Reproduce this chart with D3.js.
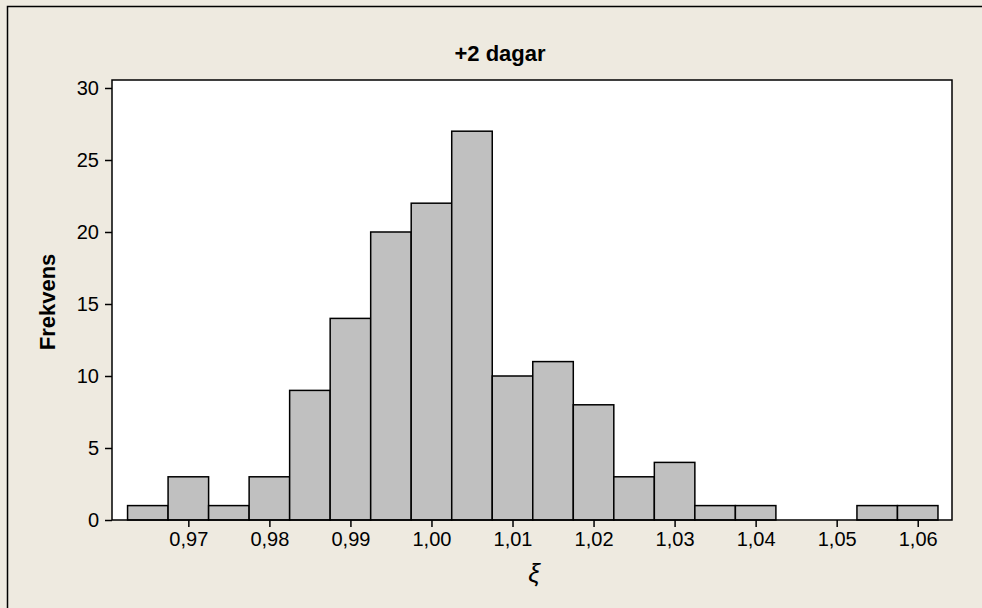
<!DOCTYPE html>
<html>
<head>
<meta charset="utf-8">
<script src="https://cdn.jsdelivr.net/npm/d3@7"></script>
<style>
  html, body { margin: 0; padding: 0; background: #EEEAE0; }
  svg { display: block; }
  text { font-family: Arial, "Liberation Sans", sans-serif; fill: #000; }
</style>
</head>
<body>
<div id="chart"></div>
<script>
// bin edges start at 0.9625, width 0.005
var binStart = 0.9625;
var binWidth = 0.005;
var counts = [1, 3, 1, 3, 9, 14, 20, 22, 27, 10, 11, 8, 3, 4, 1, 1, 0, 0, 1, 1];
var xTicks = [0.97, 0.98, 0.99, 1.00, 1.01, 1.02, 1.03, 1.04, 1.05, 1.06];
var yTicks = [0, 5, 10, 15, 20, 25, 30];
var title = "+2 dagar";
var yLabel = "Frekvens";
var xLabel = "ξ";

var width = 982, height = 608;
var plot = { left: 112, top: 80, right: 952, bottom: 520 };

var svg = d3.select("#chart").append("svg")
  .attr("width", width)
  .attr("height", height);

svg.append("rect")
  .attr("x", 0).attr("y", 0)
  .attr("width", width).attr("height", height)
  .attr("fill", "#EEEAE0");

// outer frame (right / bottom edges lie outside the window)
svg.append("rect")
  .attr("x", 7.5).attr("y", 6.5)
  .attr("width", 1000).attr("height", 700)
  .attr("fill", "none")
  .attr("stroke", "#000")
  .attr("stroke-width", 1.5);

var x = d3.scaleLinear()
  .domain([0.96058, 1.06423])
  .range([plot.left, plot.right]);

var y = d3.scaleLinear()
  .domain([0, 30.555])
  .range([plot.bottom, plot.top]);

svg.append("rect")
  .attr("x", plot.left).attr("y", plot.top)
  .attr("width", plot.right - plot.left)
  .attr("height", plot.bottom - plot.top)
  .attr("fill", "#fff");

var bins = counts.map(function(c, i) {
  return { x0: binStart + i * binWidth, x1: binStart + (i + 1) * binWidth, n: c };
});

svg.append("g").selectAll("rect")
  .data(bins)
  .enter().append("rect")
  .attr("x", function(d) { return x(d.x0); })
  .attr("y", function(d) { return y(d.n); })
  .attr("width", function(d) { return x(d.x1) - x(d.x0); })
  .attr("height", function(d) { return y(0) - y(d.n); })
  .attr("fill", "#C0C0C0")
  .attr("stroke", "#000")
  .attr("stroke-width", 1.5);

// plot border
svg.append("rect")
  .attr("x", plot.left).attr("y", plot.top)
  .attr("width", plot.right - plot.left)
  .attr("height", plot.bottom - plot.top)
  .attr("fill", "none")
  .attr("stroke", "#000")
  .attr("stroke-width", 1.5);

var fmt = function(v) { return d3.format(".2f")(v).replace(".", ","); };

var xAxis = svg.append("g")
  .attr("transform", "translate(0," + plot.bottom + ")")
  .call(d3.axisBottom(x).tickValues(xTicks).tickFormat(fmt).tickSize(7).tickPadding(5));

var yAxis = svg.append("g")
  .attr("transform", "translate(" + plot.left + ",0)")
  .call(d3.axisLeft(y).tickValues(yTicks).tickSize(7).tickPadding(6));

[xAxis, yAxis].forEach(function(a) {
  a.select(".domain").remove();
  a.selectAll(".tick line").attr("stroke", "#000").attr("stroke-width", 1.5);
  a.selectAll(".tick text")
    .attr("font-family", "Arial, 'Liberation Sans', sans-serif")
    .attr("font-size", 20)
    .attr("fill", "#000");
});

svg.append("text")
  .attr("x", 500).attr("y", 61)
  .attr("text-anchor", "middle")
  .attr("font-size", 22)
  .attr("font-weight", "bold")
  .text(title);

svg.append("text")
  .attr("transform", "translate(55,302) rotate(-90)")
  .attr("text-anchor", "middle")
  .attr("font-size", 22)
  .attr("font-weight", "bold")
  .text(yLabel);

svg.append("text")
  .attr("x", 534).attr("y", 582)
  .attr("text-anchor", "middle")
  .attr("font-size", 26)
  .attr("font-style", "italic")
  .text(xLabel);
</script>
</body>
</html>
